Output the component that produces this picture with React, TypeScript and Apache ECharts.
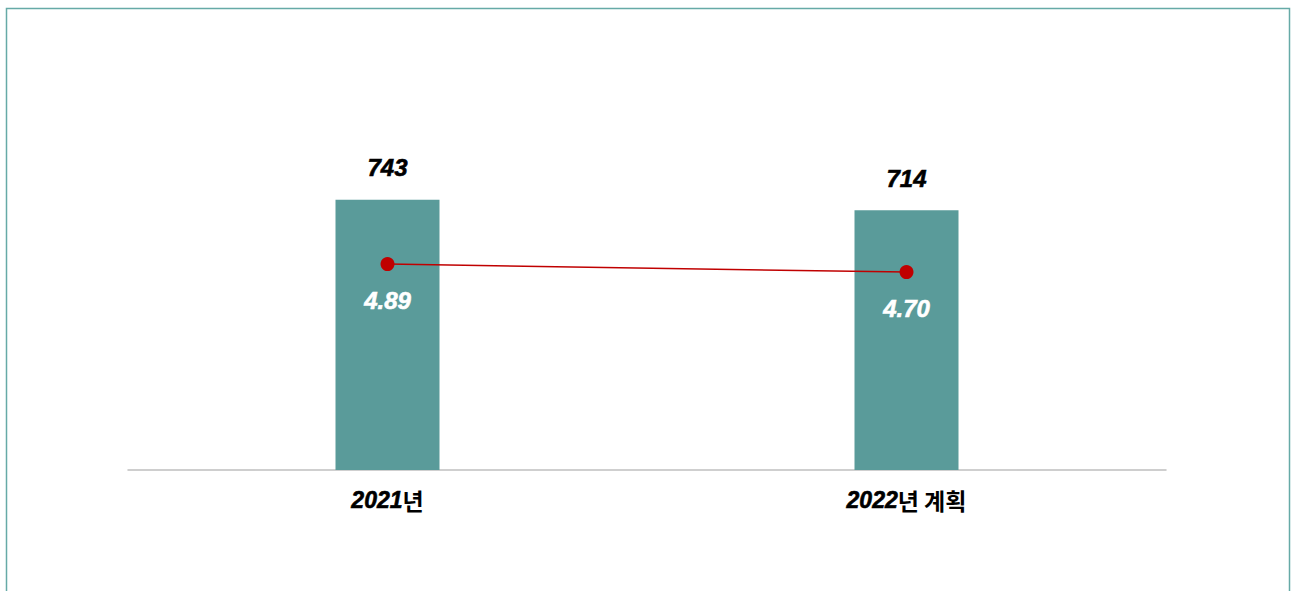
import React, { useEffect, useRef } from "react";
import * as echarts from "echarts";

const categories = ["2021", "2022"];
const categorySuffix = ["년", "년 계획"];
const barValues = [743, 714];
const lineValues = [4.89, 4.7];

export default function App() {
  const ref = useRef<HTMLDivElement>(null);
  useEffect(() => {
    if (!ref.current) return;
    const chart = echarts.init(ref.current, null, { renderer: "svg" });
    const italicFont = "'Liberation Sans', Arial, sans-serif";
    chart.setOption({
      animation: false,
      graphic: [
        {
          type: "rect",
          shape: { x: 6.5, y: 8.5, width: 1283, height: 700 },
          style: { fill: "none", stroke: "#66aaa7", lineWidth: 1.5 },
          silent: true,
        },
      ],
      grid: { left: 128, right: 126, top: 70, bottom: 121, containLabel: false },
      xAxis: {
        type: "category",
        data: categories,
        axisLine: { show: true, lineStyle: { color: "#bfbfbf", width: 1.5 } },
        axisTick: { show: false },
        axisLabel: {
          margin: 18,
          formatter: (v: string, i: number) => `{y|${v}}{s|${categorySuffix[i]}}`,
          rich: {
            y: {
              fontFamily: italicFont,
              fontStyle: "italic",
              fontWeight: 900,
              fontSize: 23,
              color: "#000",
              textBorderColor: "#000",
              textBorderWidth: 0.6,
            },
            s: {
              fontFamily: "'Noto Sans CJK KR', sans-serif",
              fontWeight: "bold",
              fontSize: 23,
              color: "#000",
            },
          },
        },
      },
      yAxis: [
        { type: "value", min: 0, max: 1100, show: false, splitLine: { show: false } },
        { type: "value", min: 0, max: 9.5, show: false, splitLine: { show: false } },
      ],
      series: [
        {
          type: "bar",
          data: barValues,
          barWidth: 104,
          yAxisIndex: 0,
          itemStyle: { color: "#5a9b9a" },
          label: {
            show: true,
            position: "top",
            distance: 20,
            fontFamily: italicFont,
            fontStyle: "italic",
            fontWeight: 900,
            fontSize: 24,
            color: "#000",
            textBorderColor: "#000",
            textBorderWidth: 0.6,
          },
        },
        {
          type: "line",
          data: lineValues,
          yAxisIndex: 1,
          symbol: "circle",
          symbolSize: 14,
          lineStyle: { color: "#c00000", width: 1.5 },
          itemStyle: { color: "#c00000" },
          label: {
            show: true,
            position: "bottom",
            distance: 17,
            formatter: (p: any) => p.value.toFixed(2),
            fontFamily: italicFont,
            fontStyle: "italic",
            fontWeight: 900,
            fontSize: 24,
            color: "#fff",
            textBorderColor: "#fff",
            textBorderWidth: 0.6,
          },
        },
      ],
    });
    return () => chart.dispose();
  }, []);
  return (
    <div
      ref={ref}
      style={{ position: "absolute", left: 0, top: 0, width: 1292, height: 591, background: "#fff" }}
    />
  );
}
